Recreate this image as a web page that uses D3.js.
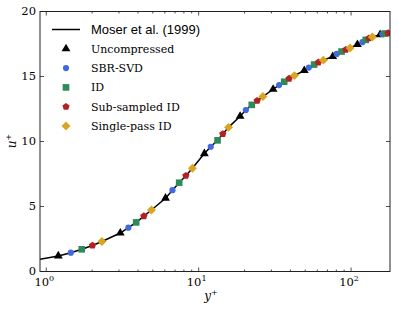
<!DOCTYPE html>
<html>
<head>
<meta charset="utf-8">
<script src="https://cdn.jsdelivr.net/npm/d3@7"></script>
<style>
  body { margin: 0; background: #fff; }
  svg { display: block; }
</style>
</head>
<body>
<div id="graph"></div>
<script>
var width = 399;
var height = 312;
var margin = { top: 11, bottom: 41, left: 40, right: 9 };
var serif = "'DejaVu Serif', serif";
var sans = "'Liberation Sans', Arial, sans-serif";

// Moser et al. (1999) DNS profile, y+ vs u+
var moserY = [0.91, 1.2, 1.45, 1.71, 2.01, 2.32, 3.06, 3.46, 3.89, 4.37, 4.9, 6.06, 6.73, 7.45, 8.24, 9.1,
  10.9, 12.0, 13.3, 14.4, 15.7, 18.7, 20.4, 22.3, 24.2, 26.4, 30.8, 33.7, 36.4, 39.2, 42.5,
  49.3, 52.8, 57.2, 61.0, 65.8, 75.8, 80.5, 86.6, 92.3, 98.5, 110, 118.6, 124.8, 130.8, 137.8,
  155, 160.3, 167, 175, 180];
var moserU = [0.9, 1.16, 1.41, 1.67, 1.96, 2.27, 2.92, 3.33, 3.74, 4.22, 4.69, 5.6, 6.22, 6.79, 7.33, 7.9,
  9.03, 9.56, 10.05, 10.54, 11.05, 11.9, 12.38, 12.78, 13.1, 13.42, 13.98, 14.3, 14.56, 14.8, 15.03,
  15.42, 15.65, 15.88, 16.05, 16.22, 16.5, 16.7, 16.88, 17.02, 17.16, 17.42, 17.6, 17.78, 17.9, 18.0,
  18.18, 18.23, 18.27, 18.3, 18.3];

// compressed-data samples
var uncompY = [1.2, 3.06, 6.06, 10.9, 18.7, 30.8, 49.3, 75.8, 110, 155];
var uncompU = [1.16, 2.92, 5.6, 9.03, 11.9, 13.98, 15.42, 16.5, 17.42, 18.18];
var sbrY = [1.45, 3.46, 6.73, 12.0, 20.4, 33.7, 52.8, 80.5, 118.6, 160.3];
var sbrU = [1.41, 3.33, 6.22, 9.56, 12.38, 14.3, 15.65, 16.7, 17.6, 18.23];
var idY = [1.71, 3.89, 7.45, 13.3, 22.3, 36.4, 57.2, 86.6, 124.8, 167];
var idU = [1.67, 3.74, 6.79, 10.05, 12.78, 14.56, 15.88, 16.88, 17.78, 18.27];
var subY = [2.01, 4.37, 8.24, 14.4, 24.2, 39.2, 61.0, 92.3, 130.8, 175];
var subU = [1.96, 4.22, 7.33, 10.54, 13.1, 14.8, 16.05, 17.02, 17.9, 18.3];
var spY = [2.32, 4.9, 9.1, 15.7, 26.4, 42.5, 65.8, 98.5, 137.8];
var spU = [2.27, 4.69, 7.9, 11.05, 13.42, 15.03, 16.22, 17.16, 18.0];

var legendLabels = ["Moser et al. (1999)", "Uncompressed", "SBR-SVD", "ID", "Sub-sampled ID", "Single-pass ID"];
var yTicks = [0, 5, 10, 15, 20];
var xMajor = [1, 10, 100];
var xMinor = [2, 3, 4, 5, 6, 7, 8, 9, 20, 30, 40, 50, 60, 70, 80, 90];

function zip(a, b) { return a.map(function (v, i) { return [v, b[i]]; }); }

function pentagon(r) {
  var pts = [];
  for (var k = 0; k < 5; k++) {
    var a = -Math.PI / 2 + k * 2 * Math.PI / 5;
    pts.push([r * Math.cos(a), r * Math.sin(a)]);
  }
  return "M" + pts.join("L") + "Z";
}

var series = [
  { data: zip(uncompY, uncompU), color: "#000000", path: d3.symbol().type(d3.symbolTriangle).size(34)(), rot: 0 },
  { data: zip(sbrY, sbrU), color: "#4169e1", path: d3.symbol().type(d3.symbolCircle).size(30)(), rot: 0 },
  { data: zip(idY, idU), color: "#2e8b57", path: d3.symbol().type(d3.symbolSquare).size(44)(), rot: 0 },
  { data: zip(subY, subU), color: "#b22222", path: pentagon(3.8), rot: 0 },
  { data: zip(spY, spU), color: "#daa520", path: d3.symbol().type(d3.symbolSquare).size(40)(), rot: 45 }
];

var svg = d3.select("#graph").append("svg")
  .attr("width", width).attr("height", height);

var x = d3.scaleLog().domain([0.91, 180]).range([margin.left, width - margin.right]);
var y = d3.scaleLinear().domain([0, 20]).range([height - margin.bottom, margin.top]);

var x0 = margin.left, x1 = width - margin.right, y0 = height - margin.bottom, y1 = margin.top;

var plot = svg.append("g");
plot.append("clipPath").attr("id", "clip").append("rect")
  .attr("x", x0).attr("y", y1).attr("width", x1 - x0).attr("height", y0 - y1);

var inner = plot.append("g").attr("clip-path", "url(#clip)");

inner.append("path")
  .datum(zip(moserY, moserU))
  .attr("fill", "none")
  .attr("stroke", "#000")
  .attr("stroke-width", 1.5)
  .attr("d", d3.line().x(function (d) { return x(d[0]); }).y(function (d) { return y(d[1]); }));

series.forEach(function (s) {
  inner.selectAll(null)
    .data(s.data)
    .enter()
    .append("path")
    .attr("d", s.path)
    .attr("fill", s.color)
    .attr("transform", function (d) {
      return "translate(" + x(d[0]) + "," + y(d[1]) + ") rotate(" + s.rot + ")";
    });
});

// frame
svg.append("rect")
  .attr("x", x0).attr("y", y1 + 0.5).attr("width", x1 - x0).attr("height", y0 - y1)
  .attr("fill", "none").attr("stroke", "#222").attr("stroke-width", 1);

// ticks, inward on all sides
var tk = svg.append("g").attr("stroke", "#222").attr("stroke-width", 0.8);
xMajor.forEach(function (v) {
  var px = x(v);
  tk.append("line").attr("x1", px).attr("x2", px).attr("y1", y0 + 0.5).attr("y2", y0 - 3.5);
  tk.append("line").attr("x1", px).attr("x2", px).attr("y1", y1 + 0.5).attr("y2", y1 + 4.5);
});
xMinor.forEach(function (v) {
  var px = x(v);
  tk.append("line").attr("x1", px).attr("x2", px).attr("y1", y0 + 0.5).attr("y2", y0 - 1.5);
  tk.append("line").attr("x1", px).attr("x2", px).attr("y1", y1 + 0.5).attr("y2", y1 + 2.5);
});
yTicks.forEach(function (v) {
  var py = y(v) + 0.5;
  tk.append("line").attr("x1", x0).attr("x2", x0 + 4).attr("y1", py).attr("y2", py);
  tk.append("line").attr("x1", x1).attr("x2", x1 - 4).attr("y1", py).attr("y2", py);
});

// tick labels
yTicks.forEach(function (v) {
  svg.append("text")
    .style("font-family", serif).style("font-size", "11.5px")
    .attr("x", x0 - 4).attr("y", y(v) + 4)
    .attr("text-anchor", "end").text(v);
});
xMajor.forEach(function (v, i) {
  var t = svg.append("text")
    .style("font-family", serif).style("font-size", "11.5px")
    .attr("x", x(v) - 2).attr("y", y0 + 15).attr("text-anchor", "middle");
  t.append("tspan").text("10");
  t.append("tspan").attr("dy", -5).style("font-size", "8px").text(i);
});

// axis labels
var xl = svg.append("text")
  .style("font-family", serif).style("font-size", "12px")
  .attr("x", (x0 + x1) / 2 - 4).attr("y", 300).attr("text-anchor", "middle");
xl.append("tspan").style("font-style", "italic").text("y");
xl.append("tspan").attr("dy", -5).style("font-size", "8px").text("+");

var yl = svg.append("text")
  .style("font-family", serif).style("font-size", "12px")
  .attr("transform", "translate(16," + ((y0 + y1) / 2) + ") rotate(-90)")
  .attr("text-anchor", "middle");
yl.append("tspan").style("font-style", "italic").text("u");
yl.append("tspan").attr("dy", -5).style("font-size", "8px").text("+");

// legend
var leg = svg.append("g");
var rowY = function (i) { return 29.5 + i * 19.3; };
leg.append("line").attr("x1", 52).attr("x2", 80).attr("y1", rowY(0)).attr("y2", rowY(0))
  .attr("stroke", "#000").attr("stroke-width", 1.5);
leg.append("text").style("font-family", sans).style("font-size", "13px")
  .attr("x", 91).attr("y", rowY(0) + 4.5).text(legendLabels[0]);
series.forEach(function (s, i) {
  var yy = rowY(i + 1);
  leg.append("path").attr("d", s.path).attr("fill", s.color)
    .attr("transform", "translate(66," + yy + ") rotate(" + s.rot + ")");
  leg.append("text").style("font-family", serif).style("font-size", "11px")
    .attr("x", 91).attr("y", yy + 4).text(legendLabels[i + 1]);
});
</script>
</body>
</html>
